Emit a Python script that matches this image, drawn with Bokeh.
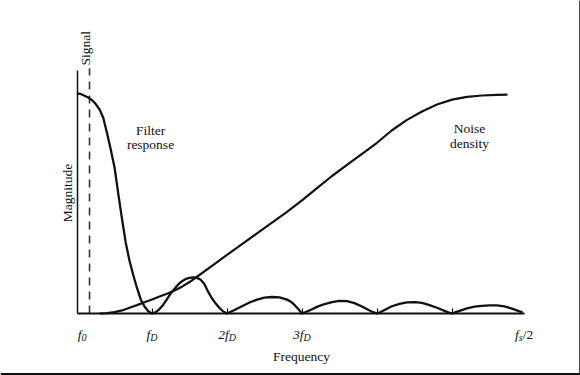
import math
from bokeh.plotting import figure
from bokeh.models import Range1d, LinearAxis, FixedTicker, Span, ColumnDataSource
from bokeh.core.properties import value
from bokeh.embed import file_html
from bokeh.resources import INLINE

# ---------------- data (frequency in units of f_D, magnitude normalised) ----------------
filter_freq = [0.0, 0.05, 0.1, 0.15, 0.2, 0.25, 0.3, 0.35, 0.4, 0.45, 0.5, 0.55, 0.6, 0.65, 0.7,
               0.75, 0.8, 0.85, 0.9, 0.95, 1.0,
               1.05, 1.1, 1.15, 1.2, 1.25, 1.3, 1.35, 1.4, 1.45, 1.5, 1.55, 1.6, 1.65, 1.7, 1.75,
               1.8, 1.85, 1.9, 1.95, 2.0,
               2.05, 2.1, 2.2, 2.3, 2.4, 2.5, 2.6, 2.7, 2.8, 2.85, 2.9, 2.95, 3.0,
               3.05, 3.1, 3.2, 3.3, 3.4, 3.5, 3.6, 3.7, 3.8, 3.9, 3.95, 4.0,
               4.05, 4.1, 4.2, 4.3, 4.4, 4.5, 4.6, 4.7, 4.8, 4.9, 4.95, 5.0,
               5.05, 5.1, 5.2, 5.3, 5.4, 5.5, 5.6, 5.7, 5.8, 5.9, 5.94]
filter_mag = [1.0, 0.998, 0.99, 0.982, 0.97, 0.952, 0.928, 0.89, 0.82, 0.745, 0.665, 0.545, 0.43, 0.322, 0.24,
              0.175, 0.116, 0.064, 0.032, 0.01, 0.0,
              0.006, 0.02, 0.04, 0.065, 0.091, 0.112, 0.132, 0.147, 0.157, 0.162, 0.164, 0.162, 0.153, 0.133, 0.098,
              0.068, 0.045, 0.025, 0.009, 0.0,
              0.008, 0.016, 0.033, 0.05, 0.063, 0.072, 0.075, 0.073, 0.063, 0.054, 0.039, 0.02, 0.0,
              0.007, 0.014, 0.03, 0.043, 0.052, 0.057, 0.056, 0.047, 0.032, 0.014, 0.006, 0.0,
              0.007, 0.016, 0.033, 0.044, 0.051, 0.052, 0.048, 0.038, 0.026, 0.012, 0.005, 0.0,
              0.006, 0.012, 0.023, 0.031, 0.035, 0.037, 0.037, 0.032, 0.022, 0.01, 0.006]

noise_freq = [0.3, 0.4, 0.5, 0.6, 0.7, 0.8, 0.9, 1.0, 1.1, 1.2, 1.3, 1.4, 1.5, 1.6, 1.8, 2.0, 2.2, 2.4,
              2.6, 2.8, 3.0, 3.2, 3.4, 3.6, 3.8, 4.0, 4.2, 4.4, 4.6, 4.8, 5.0, 5.2, 5.4, 5.6, 5.74]
noise_mag = [0.0, 0.002, 0.006, 0.014, 0.026, 0.038, 0.051, 0.064, 0.077, 0.09, 0.105, 0.122, 0.143, 0.167,
             0.216, 0.266, 0.315, 0.364, 0.413, 0.462, 0.514, 0.57, 0.625, 0.676, 0.726, 0.776, 0.833,
             0.88, 0.918, 0.95, 0.972, 0.985, 0.991, 0.994, 0.995]

signal_freq = 0.167
fs_half = 5.95
axis_top = 1.105

tick_freqs = [1, 2, 3, 4, 5]
label_freqs = [0, 1, 2, 3, fs_half]
label_main = ["f", "f", "2f", "3f", "f"]
label_sub = ["0", "D", "D", "D", "s"]
label_suffix = ["", "", "", "", "/2"]

# ---------------- layout helpers (pixel -> data) ----------------
X0_PX, UX = 76.5, 75.0
Y0_PX, UY = 313.0, 220.0
W, H = 580, 375


def px2x(px):
    return (px - X0_PX) / UX


def px2y(py):
    return (Y0_PX - py) / UY


FONT = value("Liberation Serif")
INK = "#111111"

p = figure(width=W, height=H, x_range=Range1d(px2x(0), px2x(W)), y_range=Range1d(px2y(H), px2y(0)),
           x_axis_type=None, y_axis_type=None, toolbar_location=None, output_backend="svg",
           min_border=0, min_border_left=0, min_border_right=0, min_border_top=0, min_border_bottom=0)
p.grid.visible = False
p.outline_line_color = None
p.background_fill_color = "white"
p.border_fill_color = "white"

# axes
xaxis = LinearAxis(fixed_location=0, bounds=(0, fs_half + 0.02), ticker=FixedTicker(ticks=tick_freqs),
                   major_tick_in=5, major_tick_out=0, minor_tick_in=0, minor_tick_out=0,
                   axis_line_width=2, axis_line_color=INK, major_tick_line_width=1.2,
                   major_tick_line_color=INK,
                   major_label_overrides={t: "" for t in tick_freqs})
p.add_layout(xaxis, "below")
yaxis = LinearAxis(fixed_location=0, bounds=(0, axis_top), ticker=FixedTicker(ticks=[]),
                   major_tick_in=0, major_tick_out=0, minor_tick_in=0, minor_tick_out=0,
                   axis_line_width=1.5, axis_line_color=INK)
p.add_layout(yaxis, "left")

# signal dashed line
p.segment(x0=[signal_freq], y0=[0], x1=[signal_freq], y1=[axis_top + 0.01],
          line_color="#333333", line_width=1.6, line_dash="8 6")

# curves
p.line(filter_freq, filter_mag, line_color=INK, line_width=2.3, line_join="round")
p.line(noise_freq, noise_mag, line_color=INK, line_width=2.2, line_join="round")

# tick labels
lab = ColumnDataSource(dict(x=label_freqs, y=[0] * 5, main=label_main, sub=label_sub, suf=label_suffix,
                            off_main=[4.5, -1.7, 1.8, 1.5, -4.5],
                            off_suf=[0, 0, 0, 0, -0.5]))
p.text(x="x", y="y", text="main", source=lab, x_offset="off_main", y_offset=21,
       text_align="right", text_baseline="alphabetic", text_font=FONT, text_font_style="italic",
       text_font_size="13.5px", text_color=INK)
p.text(x="x", y="y", text="sub", source=lab, x_offset="off_main", y_offset=24,
       text_align="left", text_baseline="alphabetic", text_font=FONT, text_font_style="italic",
       text_font_size="10px", text_color=INK)
p.text(x="x", y="y", text="suf", source=lab, x_offset="off_suf", y_offset=21,
       text_align="left", text_baseline="alphabetic", text_font=FONT,
       text_font_size="13.5px", text_color=INK)

# annotations
p.text(x=[px2x(150), px2x(150), px2x(469), px2x(469), px2x(301)],
       y=[px2y(130), px2y(144), px2y(128), px2y(143), px2y(356)],
       text=["Filter", "response", "Noise", "density", "Frequency"],
       text_align="center", text_baseline="alphabetic", text_font=FONT,
       text_font_size="13.5px", text_color=INK)
p.text(x=[px2x(84.5)], y=[px2y(65)], text=["Signal"], angle=math.pi / 2,
       text_align="left", text_baseline="alphabetic", text_font=FONT,
       text_font_size="13.5px", text_color=INK)
p.text(x=[px2x(67)], y=[px2y(192.5)], text=["Magnitude"], angle=math.pi / 2,
       text_align="center", text_baseline="alphabetic", text_font=FONT,
       text_font_size="13.5px", text_color=INK)

# page border (right and bottom edges)
p.add_layout(Span(location=px2x(579.5), dimension="height", line_color=INK, line_width=1.5))
p.add_layout(Span(location=px2y(373.5), dimension="width", line_color=INK, line_width=2))

open("out.html", "w").write(file_html(p, INLINE))
